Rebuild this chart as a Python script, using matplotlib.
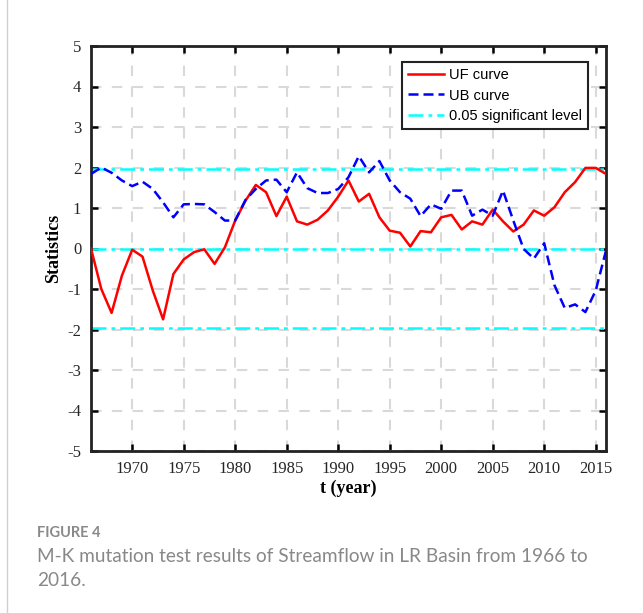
import numpy as np
import matplotlib.pyplot as plt
from matplotlib.lines import Line2D

plt.rcParams['axes.unicode_minus'] = False

years = list(range(1966, 2017))

# UF curve (forward statistic)
uf = [0.00, -1.00, -1.59, -0.67, -0.03, -0.20, -1.04, -1.75, -0.63, -0.27,
      -0.09, -0.02, -0.38, 0.03, 0.69, 1.18, 1.57, 1.39, 0.80, 1.28,
      0.67, 0.59, 0.71, 0.94, 1.28, 1.68, 1.16, 1.35, 0.77, 0.44,
      0.39, 0.05, 0.43, 0.40, 0.77, 0.83, 0.47, 0.67, 0.59, 0.96,
      0.67, 0.42, 0.59, 0.94, 0.81, 1.02, 1.39, 1.64, 1.99, 1.99,
      1.84]

# UB curve (backward statistic)
ub = [1.84, 2.00, 1.87, 1.68, 1.54, 1.65, 1.47, 1.14, 0.77, 1.09,
      1.10, 1.09, 0.90, 0.69, 0.69, 1.20, 1.47, 1.68, 1.70, 1.39,
      1.88, 1.49, 1.37, 1.37, 1.47, 1.76, 2.28, 1.88, 2.16, 1.68,
      1.39, 1.23, 0.80, 1.09, 0.98, 1.43, 1.43, 0.81, 0.96, 0.81,
      1.43, 0.69, -0.01, -0.25, 0.13, -0.91, -1.47, -1.38, -1.57, -1.04,
      -0.05]

sig_levels = [1.96, 0, -1.96]
xticks = list(range(1970, 2016, 5))
yticks = list(range(-5, 6))

fig = plt.figure(figsize=(6.43, 6.13), dpi=100)
ax = fig.add_axes([91 / 643, 1 - 451 / 613, 515 / 643, 405 / 613])

ax.grid(True, color='#d9d9d9', linestyle=(0, (5, 5)), linewidth=1.5)
ax.set_axisbelow(True)

ax.plot(years, uf, color='red', linewidth=1.8, label='UF curve', zorder=3)
ax.plot(years, ub, color='blue', linewidth=1.8, linestyle=(0, (4, 2)),
        label='UB curve', zorder=3)
for i, lv in enumerate(sig_levels):
    ax.axhline(lv, color='cyan', linewidth=1.8, linestyle=(0, (6, 2, 1.5, 2)),
               label='0.05 significant level' if i == 0 else None, zorder=2)

ax.set_xlim(1966, 2016)
ax.set_ylim(-5, 5)
ax.set_xticks(xticks)
ax.set_yticks(yticks)
ax.tick_params(direction='in', top=True, right=True, length=5, width=1.8,
               labelsize=12, pad=7, labelcolor='#262626')
for lab in ax.get_xticklabels() + ax.get_yticklabels():
    lab.set_fontfamily('Liberation Serif')
for sp in ax.spines.values():
    sp.set_linewidth(2)
    sp.set_color('#222222')

ax.set_xlabel('t (year)', fontfamily='Liberation Serif', fontweight='bold',
              fontsize=13, labelpad=2)
ax.set_ylabel('Statistics', fontfamily='Liberation Serif', fontweight='bold',
              fontsize=13, labelpad=4)

leg = ax.legend(loc='upper right', bbox_to_anchor=(0.965, 0.960),
                prop={'family': 'Liberation Sans', 'size': 10.5},
                fancybox=False, framealpha=1, edgecolor='#222222',
                handlelength=2.5, handletextpad=0.35, borderpad=0.4,
                labelspacing=0.45, borderaxespad=0)
leg.get_frame().set_linewidth(1.5)

fig.add_artist(Line2D([6.5 / 643, 6.5 / 643], [0, 1], color='#d0d0d0', linewidth=1))
fig.text(37 / 643, 1 - 533 / 613, 'FIGURE 4', fontfamily='Lato',
         fontweight='bold', fontsize=10.5, color='#8a8a8a', va='center')
fig.text(37 / 643, 1 - 557 / 613,
         'M-K mutation test results of Streamflow in LR Basin from 1966 to',
         fontfamily='Lato', fontsize=13.7, color='#888888', va='center')
fig.text(37 / 643, 1 - 581 / 613, '2016.', fontfamily='Lato',
         fontsize=13.7, color='#888888', va='center')

fig.savefig('out.png', dpi=100)
